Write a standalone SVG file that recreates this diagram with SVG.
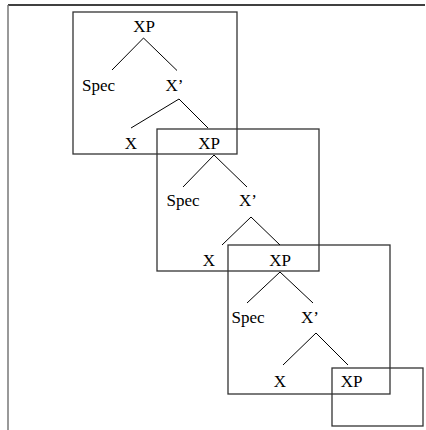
<svg xmlns="http://www.w3.org/2000/svg" width="426" height="430" viewBox="0 0 426 430">
<style>
  text { font-family: "Liberation Serif", "Times New Roman", serif; font-size: 17px; fill: #000; text-anchor: middle; }
  .edge { stroke: #000; stroke-width: 1; fill: none; }
  .box { stroke: #333; stroke-width: 1.3; fill: none; }
</style>
<rect width="426" height="430" fill="#fff"/>
<g id="frame">
  <line x1="8" y1="5" x2="425" y2="5" stroke="#000" stroke-width="1.3"/>
  <line x1="8" y1="5" x2="8" y2="430" stroke="#777" stroke-width="1.5"/>
</g>
<g id="boxes">
  <rect class="box" x="73" y="12" width="164" height="142"/>
  <rect class="box" x="157" y="129" width="162" height="142"/>
  <rect class="box" x="228" y="245" width="162" height="149"/>
  <rect class="box" x="332" y="368" width="91" height="58"/>
</g>
<g id="connectors">
  <line class="edge" x1="143.5" y1="38" x2="112" y2="70"/>
  <line class="edge" x1="143.5" y1="38" x2="177" y2="70.5"/>
  <line class="edge" x1="179" y1="99" x2="131" y2="128"/>
  <line class="edge" x1="179" y1="99" x2="208" y2="128"/>
  <line class="edge" x1="214" y1="155" x2="183" y2="187"/>
  <line class="edge" x1="214" y1="155" x2="247" y2="187"/>
  <line class="edge" x1="251" y1="217" x2="222" y2="245"/>
  <line class="edge" x1="251" y1="217" x2="280" y2="245"/>
  <line class="edge" x1="280" y1="272" x2="247" y2="303"/>
  <line class="edge" x1="280" y1="272" x2="313" y2="303"/>
  <line class="edge" x1="316" y1="333" x2="283" y2="365"/>
  <line class="edge" x1="316" y1="333" x2="348" y2="365"/>
</g>
<g id="xp1"><text x="144" y="32">XP</text></g>
<g id="spec1"><text x="98.5" y="91">Spec</text></g>
<g id="xbar1"><text x="174.5" y="91">X’</text></g>
<g id="x1"><text x="131" y="149">X</text></g>
<g id="xp2"><text x="209" y="149">XP</text></g>
<g id="spec2"><text x="183" y="206">Spec</text></g>
<g id="xbar2"><text x="248" y="206">X’</text></g>
<g id="x2"><text x="209" y="266">X</text></g>
<g id="xp3"><text x="280" y="266">XP</text></g>
<g id="spec3"><text x="248" y="323">Spec</text></g>
<g id="xbar3"><text x="310" y="323">X’</text></g>
<g id="x3"><text x="280" y="387">X</text></g>
<g id="xp4"><text x="351.5" y="387">XP</text></g>
</svg>
